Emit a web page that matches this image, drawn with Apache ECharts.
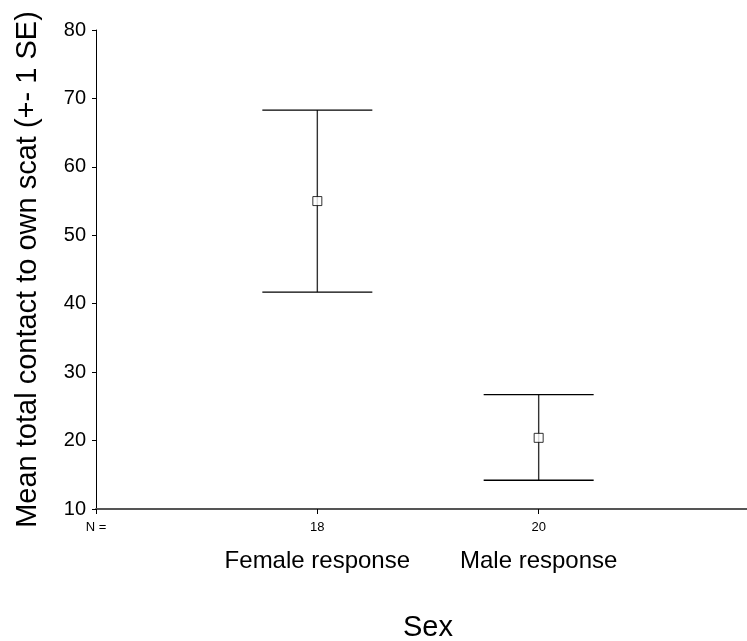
<!DOCTYPE html>
<html>
<head>
<meta charset="utf-8">
<script src="https://cdn.jsdelivr.net/npm/echarts@6/dist/echarts.min.js"></script>
<style>
  html, body { margin: 0; padding: 0; background: #fff; }
  #chart { width: 747px; height: 641px; }
</style>
</head>
<body>
<div id="chart"></div>
<script>
// Group labels and sample sizes along the x axis
const categories = ['Female response', 'Male response'];
const sampleSizes = [18, 20];

// Mean total contact and the ±1 SE bounds for each group
const means = [55.0, 20.4];
const upperSE = [68.3, 26.7];
const lowerSE = [41.7, 14.2];

// Y axis ticks
const yTicks = { min: 10, max: 80, step: 10 };

const FONT = '"Liberation Sans", Arial, sans-serif';

const chart = echarts.init(document.getElementById('chart'), null, { renderer: 'canvas' });

const errorData = categories.map((c, i) => [i + 1, lowerSE[i], upperSE[i]]);
const meanData = categories.map((c, i) => [i + 1, means[i]]);

chart.setOption({
  animation: false,
  backgroundColor: '#fff',
  // The plot area runs past the right edge of the canvas; the x axis spans positions 0..3
  grid: { left: 96, top: 30, width: 664, height: 479, containLabel: false, outerBoundsMode: 'none' },
  xAxis: {
    type: 'value',
    min: 0,
    max: 3,
    interval: 1,
    name: 'Sex',
    nameLocation: 'middle',
    nameGap: 104,
    nameTextStyle: { fontFamily: FONT, fontSize: 29, color: '#000' },
    axisLine: { lineStyle: { color: '#555', width: 2 } },
    axisTick: { show: true, length: 5, lineStyle: { color: '#000', width: 1 } },
    splitLine: { show: false },
    axisLabel: {
      margin: 9,
      color: '#000',
      fontFamily: FONT,
      formatter: function (v) {
        if (v === 0) return '{n|N =}';
        const i = Math.round(v) - 1;
        if (i >= 0 && i < categories.length) {
          return '{n|' + sampleSizes[i] + '}\n{c|' + categories[i] + '}';
        }
        return '';
      },
      rich: {
        n: { fontFamily: FONT, fontSize: 13, lineHeight: 18, color: '#000' },
        c: { fontFamily: FONT, fontSize: 24, lineHeight: 50, color: '#000' }
      }
    }
  },
  yAxis: {
    type: 'value',
    min: yTicks.min,
    max: yTicks.max,
    interval: yTicks.step,
    name: 'Mean total contact to own scat (+- 1 SE)',
    nameLocation: 'middle',
    nameGap: 54,
    nameTextStyle: { fontFamily: FONT, fontSize: 29, color: '#000' },
    axisLine: { show: true, lineStyle: { color: '#000', width: 1 } },
    axisTick: { show: true, length: 4, lineStyle: { color: '#000', width: 1 } },
    splitLine: { show: false },
    axisLabel: { margin: 10, color: '#000', fontFamily: FONT, fontSize: 20 }
  },
  series: [
    {
      type: 'custom',
      data: errorData,
      z: 2,
      renderItem: function (params, api) {
        const x = api.value(0);
        const lo = api.coord([x, api.value(1)]);
        const hi = api.coord([x, api.value(2)]);
        const half = 55;
        const style = { stroke: '#000', lineWidth: 1.3 };
        return {
          type: 'group',
          children: [
            { type: 'line', shape: { x1: hi[0], y1: hi[1], x2: lo[0], y2: lo[1] }, style: { stroke: '#333', lineWidth: 1.4 } },
            { type: 'line', shape: { x1: hi[0] - half, y1: hi[1], x2: hi[0] + half, y2: hi[1] }, style: style },
            { type: 'line', shape: { x1: lo[0] - half, y1: lo[1], x2: lo[0] + half, y2: lo[1] }, style: style }
          ]
        };
      }
    },
    {
      type: 'scatter',
      data: meanData,
      z: 3,
      symbol: 'rect',
      symbolSize: 9,
      itemStyle: { color: '#fff', borderColor: '#000', borderWidth: 1 }
    }
  ]
});
</script>
</body>
</html>
